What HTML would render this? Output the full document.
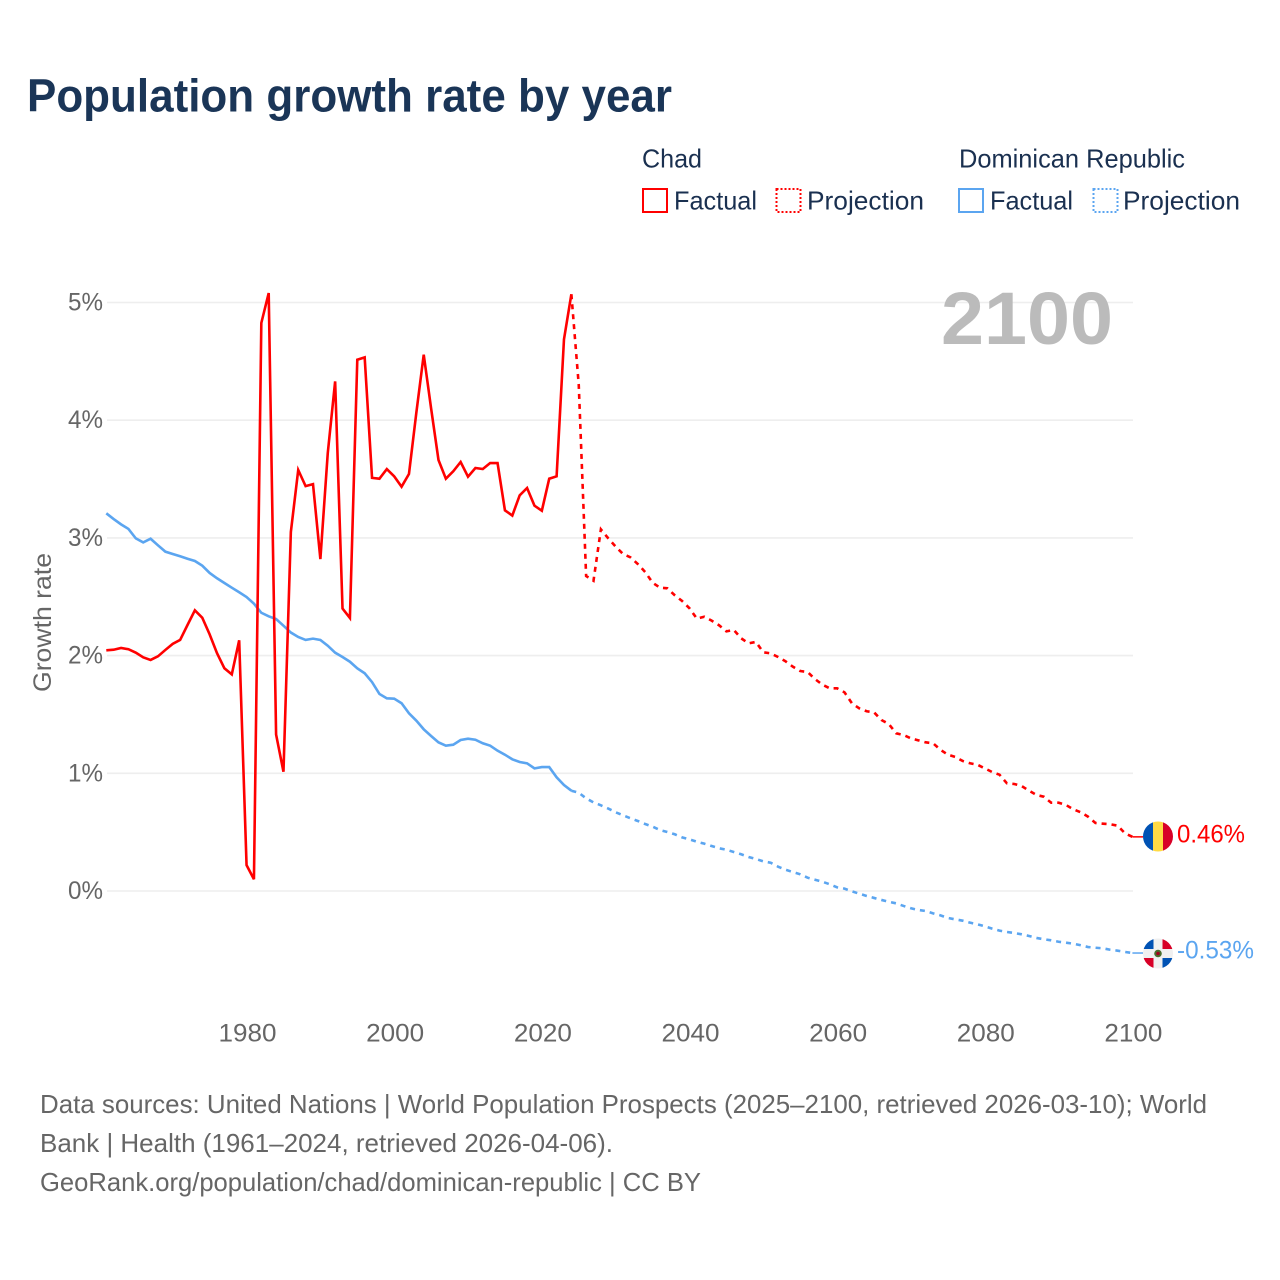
<!DOCTYPE html>
<html lang="en">
<head>
<meta charset="utf-8">
<title>Population growth rate by year</title>
<style>
html,body{margin:0;padding:0;background:#fff;}
svg{display:block;}
text{font-family:"Liberation Sans",sans-serif;}
</style>
</head>
<body>
<svg id="chart" xmlns="http://www.w3.org/2000/svg" width="1280" height="1280" viewBox="0 0 1280 1280">
  <rect width="1280" height="1280" fill="#ffffff"/>
  <text x="27" y="111.5" font-size="46" font-weight="700" fill="#1a3557" textLength="645" lengthAdjust="spacingAndGlyphs">Population growth rate by year</text>

  <g font-size="26" fill="#1a3050">
    <text x="642" y="167.5" textLength="60" lengthAdjust="spacingAndGlyphs">Chad</text>
    <text x="959" y="167.5" textLength="226" lengthAdjust="spacingAndGlyphs">Dominican Republic</text>
    <g>
      <rect x="643" y="189" width="24" height="23" fill="none" stroke="#ff0000" stroke-width="2"/>
      <text x="674" y="209.5" textLength="83" lengthAdjust="spacingAndGlyphs">Factual</text>
    </g>
    <g>
      <rect x="776.5" y="189" width="24" height="23" fill="none" stroke="#ff0000" stroke-width="2" stroke-dasharray="2 2"/>
      <text x="807" y="209.5" textLength="117" lengthAdjust="spacingAndGlyphs">Projection</text>
    </g>
    <g>
      <rect x="959" y="189" width="24" height="23" fill="none" stroke="#5ba5f0" stroke-width="2"/>
      <text x="990" y="209.5" textLength="83" lengthAdjust="spacingAndGlyphs">Factual</text>
    </g>
    <g>
      <rect x="1093.5" y="189" width="24" height="23" fill="none" stroke="#5ba5f0" stroke-width="2" stroke-dasharray="2 2"/>
      <text x="1123" y="209.5" textLength="117" lengthAdjust="spacingAndGlyphs">Projection</text>
    </g>
  </g>

  <g id="grid"></g>
  <g id="yticks" font-size="25" fill="#666666" text-anchor="end"></g>
  <g id="xticks" font-size="25" fill="#666666" text-anchor="middle"></g>
  <text transform="translate(51,622.5) rotate(-90)" font-size="25" fill="#666666" text-anchor="middle" textLength="139" lengthAdjust="spacingAndGlyphs">Growth rate</text>

  <text x="1113" y="344" font-size="74" font-weight="700" fill="#bbbbbb" text-anchor="end" textLength="172" lengthAdjust="spacingAndGlyphs">2100</text>

  <g id="series"></g>

  <g>
    <clipPath id="flag-clip-chad"><circle cx="1158" cy="836.5" r="15"/></clipPath>
    <g clip-path="url(#flag-clip-chad)">
      <rect x="1143" y="821" width="10" height="31" fill="#0052b4"/>
      <rect x="1153" y="821" width="10" height="31" fill="#ffda44"/>
      <rect x="1163" y="821" width="10" height="31" fill="#d80027"/>
    </g>
  </g>
  <g>
    <clipPath id="flag-clip-dr"><circle cx="1158" cy="953.5" r="15"/></clipPath>
    <g clip-path="url(#flag-clip-dr)">
      <rect x="1143" y="938" width="31" height="31" fill="#f0f0f0"/>
      <rect x="1143" y="938" width="10.5" height="11" fill="#0052b4"/>
      <rect x="1162.5" y="938" width="11" height="11" fill="#d80027"/>
      <rect x="1143" y="958" width="10.5" height="11" fill="#d80027"/>
      <rect x="1162.5" y="958" width="11" height="11" fill="#0052b4"/>
      <circle cx="1158" cy="953.5" r="3.8" fill="#496e2d"/>
      <circle cx="1158" cy="953.5" r="1.8" fill="#a2001d"/>
    </g>
  </g>
  <text x="1177" y="842.5" font-size="25" fill="#ff0000" textLength="68" lengthAdjust="spacingAndGlyphs">0.46%</text>
  <text x="1177" y="958.5" font-size="25" fill="#5ba5f0" textLength="77" lengthAdjust="spacingAndGlyphs">-0.53%</text>

  <g font-size="26" fill="#666666">
    <text x="40" y="1113" textLength="1167" lengthAdjust="spacingAndGlyphs">Data sources: United Nations | World Population Prospects (2025–2100, retrieved 2026-03-10); World</text>
    <text x="40" y="1152" textLength="573" lengthAdjust="spacingAndGlyphs">Bank | Health (1961–2024, retrieved 2026-04-06).</text>
    <text x="40" y="1191" textLength="661" lengthAdjust="spacingAndGlyphs">GeoRank.org/population/chad/dominican-republic | CC BY</text>
  </g>
</svg>

<script>
var firstYear = 1961;
var lastFactualYear = 2024;
var lastYear = 2100;
var xTickYears = [1980, 2000, 2020, 2040, 2060, 2080, 2100];
var yTickValues = [0, 1, 2, 3, 4, 5];
var yTickLabels = ["0%", "1%", "2%", "3%", "4%", "5%"];

/* Chad, 1961–2024 */
var chadFactual = [
  2.045, 2.05, 2.065, 2.054, 2.025, 1.985, 1.963, 1.994, 2.048, 2.10,
  2.133, 2.26, 2.385, 2.322, 2.18, 2.02, 1.892, 1.84, 2.13, 0.22,
  0.10, 4.826, 5.08, 1.33, 1.013, 3.05, 3.577, 3.44, 3.457, 2.82,
  3.72, 4.33, 2.40, 2.32, 4.514, 4.534, 3.51, 3.503, 3.585, 3.523,
  3.435, 3.543, 4.064, 4.557, 4.10, 3.662, 3.503, 3.566, 3.645, 3.52,
  3.594, 3.585, 3.636, 3.636, 3.234, 3.19, 3.362, 3.424, 3.274, 3.231,
  3.503, 3.523, 4.687, 5.07
];
/* Chad, 2025–2100 */
var chadProjection = [
  4.3, 2.676, 2.636, 3.073, 2.996, 2.926, 2.863, 2.835, 2.778, 2.71,
  2.62, 2.577, 2.572, 2.513, 2.464, 2.402, 2.314, 2.33, 2.297, 2.258,
  2.206, 2.218, 2.147, 2.104, 2.116, 2.028, 2.019, 1.988, 1.952, 1.906,
  1.869, 1.861, 1.801, 1.753, 1.722, 1.722, 1.688, 1.595, 1.552, 1.527,
  1.518, 1.453, 1.419, 1.34, 1.325, 1.297, 1.28, 1.263, 1.255, 1.2,
  1.158, 1.139, 1.105, 1.085, 1.073, 1.042, 1.011, 0.988, 0.915, 0.909,
  0.892, 0.852, 0.816, 0.801, 0.75, 0.75, 0.731, 0.694, 0.669, 0.631,
  0.578, 0.572, 0.567, 0.555, 0.49, 0.46
];
/* Dominican Republic, 1961–2024 */
var drFactual = [
  3.209, 3.16, 3.115, 3.076, 2.996, 2.962, 2.993, 2.937, 2.883, 2.863,
  2.844, 2.823, 2.804, 2.764, 2.702, 2.657, 2.617, 2.577, 2.538, 2.498,
  2.441, 2.364, 2.334, 2.311, 2.254, 2.196, 2.158, 2.133, 2.144, 2.133,
  2.084, 2.025, 1.988, 1.948, 1.892, 1.85, 1.775, 1.674, 1.637, 1.634,
  1.595, 1.51, 1.447, 1.374, 1.317, 1.263, 1.235, 1.243, 1.283, 1.294,
  1.285, 1.255, 1.235, 1.192, 1.158, 1.119, 1.096, 1.085, 1.042, 1.053,
  1.053, 0.966, 0.9, 0.852
];
/* Dominican Republic, 2025–2100 */
var drProjection = [
  0.835, 0.787, 0.753, 0.728, 0.7, 0.669, 0.643, 0.618, 0.595, 0.569,
  0.547, 0.518, 0.501, 0.482, 0.456, 0.439, 0.419, 0.402, 0.382, 0.363,
  0.351, 0.331, 0.312, 0.289, 0.272, 0.252, 0.24, 0.207, 0.181, 0.161,
  0.142, 0.113, 0.096, 0.079, 0.057, 0.031, 0.02, -0.003, -0.023, -0.042,
  -0.059, -0.076, -0.091, -0.105, -0.127, -0.147, -0.161, -0.17, -0.19, -0.207,
  -0.229, -0.241, -0.252, -0.269, -0.283, -0.3, -0.32, -0.337, -0.348, -0.357,
  -0.368, -0.382, -0.399, -0.41, -0.419, -0.431, -0.439, -0.448, -0.461, -0.476,
  -0.482, -0.487, -0.499, -0.507, -0.518, -0.527
];

var SVG_NS = "http://www.w3.org/2000/svg";
var plotLeft = 106.3;
var plotRight = 1132.4;
var gridLeft = 107;
var gridRight = 1133;
var zeroY = 891;
var pxPerPercent = 117.7;
var flagEdge = 1143;
var chadColor = "#ff0000";
var drColor = "#5ba5f0";

function xScale(year) {
  return plotLeft + (year - firstYear) * (plotRight - plotLeft) / (lastYear - firstYear);
}
function yScale(value) {
  return zeroY - value * pxPerPercent;
}
function make(tag, parent) {
  var el = document.createElementNS(SVG_NS, tag);
  parent.appendChild(el);
  return el;
}
function linePoints(values, startYear) {
  return values.map(function (v, i) {
    return xScale(startYear + i).toFixed(2) + "," + yScale(v).toFixed(2);
  });
}
function drawPath(parent, pts, color, dash, width) {
  var p = make("polyline", parent);
  p.setAttribute("points", pts.join(" "));
  p.setAttribute("fill", "none");
  p.setAttribute("stroke", color);
  p.setAttribute("stroke-width", width);
  p.setAttribute("stroke-linejoin", "miter");
  if (dash) p.setAttribute("stroke-dasharray", dash);
  return p;
}

var gridGroup = document.getElementById("grid");
var yTickGroup = document.getElementById("yticks");
yTickValues.forEach(function (v, i) {
  var gl = make("line", gridGroup);
  
  
  gl.setAttribute("x1", gridLeft);
  gl.setAttribute("x2", gridRight);
  gl.setAttribute("y1", yScale(v));
  gl.setAttribute("y2", yScale(v));
  gl.setAttribute("stroke", "#eeeeee");
  gl.setAttribute("stroke-width", "1.6");
  var t = make("text", yTickGroup);
  
  
  t.setAttribute("x", 103);
  t.setAttribute("y", yScale(v) + 8);
  t.setAttribute("textLength", 35);
  t.setAttribute("lengthAdjust", "spacingAndGlyphs");
  t.textContent = yTickLabels[i];
});

var xTickGroup = document.getElementById("xticks");
xTickYears.forEach(function (year) {
  var t = make("text", xTickGroup);
  
  
  t.setAttribute("x", xScale(year) + 1);
  t.setAttribute("y", 1041.5);
  t.setAttribute("textLength", 58);
  t.setAttribute("lengthAdjust", "spacingAndGlyphs");
  t.textContent = year;
});

var seriesGroup = document.getElementById("series");
var chadFactualPts = linePoints(chadFactual, firstYear);
var chadProjectionPts = [chadFactualPts[chadFactualPts.length - 1]].concat(linePoints(chadProjection, lastFactualYear + 1));
var drFactualPts = linePoints(drFactual, firstYear);
var drProjectionPts = [drFactualPts[drFactualPts.length - 1]].concat(linePoints(drProjection, lastFactualYear + 1));

var drFactualLine = drawPath(seriesGroup, drFactualPts, drColor, null, 2.6);



var drProjectionLine = drawPath(seriesGroup, drProjectionPts, drColor, "5 5", 2.6);



var chadFactualLine = drawPath(seriesGroup, chadFactualPts, chadColor, null, 2.6);



var chadProjectionLine = drawPath(seriesGroup, chadProjectionPts, chadColor, "5 5", 2.6);



var chadEndX = xScale(lastYear);
var chadEndY = yScale(chadProjection[chadProjection.length - 1]);
var chadConnector = drawPath(seriesGroup, [chadEndX + "," + chadEndY, flagEdge + "," + chadEndY], chadColor, null, 1.5);



var drEndX = xScale(lastYear);
var drEndY = yScale(drProjection[drProjection.length - 1]);
var drConnector = drawPath(seriesGroup, [drEndX + "," + drEndY, flagEdge + "," + drEndY], drColor, null, 1.5);


</script>
</body>
</html>
